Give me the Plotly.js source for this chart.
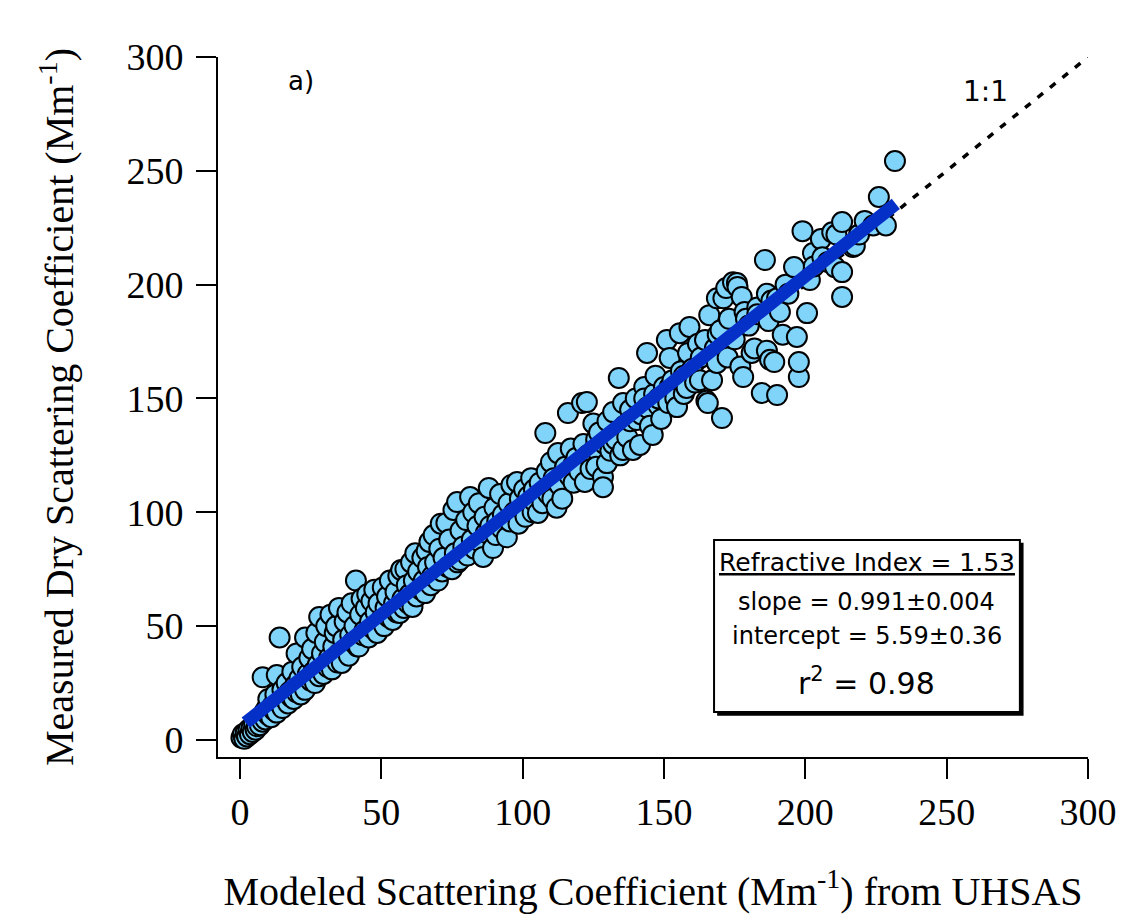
<!DOCTYPE html>
<html>
<head>
<meta charset="utf-8">
<script src="https://cdn.plot.ly/plotly-3.0.1.min.js"></script>
<style>html,body{margin:0;padding:0;background:#fff;}#chart{width:1127px;height:914px;}</style>
</head>
<body>
<div id="chart"></div>
<script>
// Modeled scattering coefficient (x, Mm^-1) from UHSAS
const modeledX = [
0.5,1,1.5,2,2.5,3,3.5,4,4.5,5,5.5,6,6.5,7,7.5,8,8,8.5,9,9.5,10,10,11,11.5,12,12.5,13,13,14,14,
15,15,16,16.5,17,17.5,18,18.5,19,19.5,20,20,21,21.5,22,22.5,23,23,24,24.5,25,25.5,26,26.5,27,27.5,28,28,29,29.5,
30,30.5,31,31.5,32,32.5,33,33.5,34,34.5,35,35,36,36.5,37,37.5,38,38.5,39,39.5,40,40.5,41,41.5,42,42.5,43,43.5,44,44.5,
45,45.5,46,46.5,47,47.5,48,48.5,49,50,50.5,51,51.5,52,52.5,53,54,54.5,55,55.5,56,56.5,57,57.5,58,58.5,59,59.5,60,60.5,
61,61.5,62,62.5,63,64,64.5,65,65.5,66,66.5,67,67.5,68,68.5,69,70,70.5,71,71.5,72,73,73.5,74,75,75.5,76,76.8,77,77.8,
78,79,80,80.5,81.4,82,82.5,83,84,84.5,85,86,86.5,87,88,88.5,89.5,90,90.5,91,92,92.5,93,94.4,95,95.5,96,97,98,98.5,
99,100,100.5,101,102,103,103.5,104,104,105.4,106,107,108,108.5,109,110,110.5,111,112,112.5,113,114,115,116,116.5,117,118,118,119,120,
121,121.5,122,122.7,123,124,125,125.5,126,126,127,128.4,128.4,129,129.8,130,131,132,132,133,134,134.5,135.5,135.5,136,137,138,138,139,140,
140.4,141.5,142,143,143,144,144,145,146,146.5,147,148,148,149,150,151,151.5,152,152,153,154,154.6,155.6,156,157,157,158,158.5,159,160,
161,162,162.7,163,164.5,165,165.5,166,167,168,168.7,168.7,169,170,170.5,171,172,172.5,173,174.4,175,175.8,176,177,177.5,178,178.5,179,180,181,
182,183,183,184.6,185.7,186.4,186.4,187,187.5,188,189,190,190,191,192,193,194,196,197,197.7,197.7,199,200.6,201.6,202.7,203,205.5,206,208,209.5,
210.5,211,213,213,213,216.8,217.5,219,221,224,226,228.5,231.7
];
// Measured dry scattering coefficient (y, Mm^-1)
const measuredY = [
1,2.5,0.5,3,1.5,4.5,2.5,5,3.5,7,4.5,6,9,6.5,10,8,27.5,12,9,14,11,18,10,15,13,20,28.5,12,45,16,
22,14,18,25,16,21,19,30,18,24,38,21,27,20,32,24,45,22,29,36,26,40,30,25,47,33,54,28,38,29,
43,50,32,36,55,31,41,47,50,34,58,38,33.8,44,52,40,56,37,46,60,43,50,70,41,41,55,62,46,48,58,
64,45,52,61,49,66,56,47,60,53,67,50,58,63,54,70,52.7,60,65,56,72,55.8,74.7,62,58,75,68,60,64,78,
58.4,70,82,63,74,66,80,70,64.5,83,76,87,68,72,90,78,70,84,95,74,80,95.3,76,88,75,101,82,104.5,78,79,
92,85,96.6,81,106.7,88,100,84,94,104,87,80.4,98,91,110.7,94,84.3,102,90,96,108,93,99,89,104,96,112,100,113.3,95,
106,101,110,98,107,115,100,110,105,99.7,113,104,134.8,118,108,122,106,115,102,126,112,106,120,143.6,116,128,113,121,124,118,
148,130,113.3,148.4,125,119,139,128,120,132,135,115.5,111,130,121.6,140,127,144,130,132,159,125,148,127.4,138,133,145,140,127.4,150,
140.5,129.6,143,155,150,170,146,138,134,152,160,147,150,141,155,175.7,148,167.8,155,158,150,146.2,178.7,162,152,160,154.6,170,181.4,163,
157,174,158,168,175.7,149,148,186.6,158,172,165.6,194,178,180,141.4,194,198.5,168,185,201,176,200.7,199,164,194.6,159.4,188,185,182,170,
172,190,187,152.4,210.8,196,171,184,167,193,166,151.5,194,188,178,200,196,207.7,177,159.4,166,223.5,187.5,202,213.9,208,220,212,210,223,
207.7,222,227.5,205.5,194.6,216.5,217,222,228,226,238.5,226,254.3
];
// Linear fit parameters (from the figure's inset)
const fitSlope = 0.991;
const fitIntercept = 5.59;
const fitRange = [2, 232];
const oneToOne = [0, 300];
const xTicks = [0, 50, 100, 150, 200, 250, 300];
const yTicks = [0, 50, 100, 150, 200, 250, 300];

const serif = '"Liberation Serif", "Times New Roman", serif';
const sans = '"DejaVu Sans", Arial, sans-serif';

const traces = [
  {x: oneToOne, y: oneToOne, mode: 'lines', line: {color: '#000', width: 3.5, dash: '7px,9px'}, hoverinfo: 'skip', showlegend: false},
  {x: modeledX, y: measuredY, mode: 'markers', type: 'scatter',
   marker: {size: 20, color: '#80d4f9', line: {color: '#000', width: 2}}, showlegend: false},
  {x: fitRange, y: fitRange.map(v => fitSlope * v + fitIntercept), mode: 'lines',
   line: {color: '#0530c8', width: 13}, showlegend: false}
];

const layout = {
  width: 1127, height: 914,
  margin: {l: 218, r: 39, t: 57, b: 157},
  paper_bgcolor: '#fff', plot_bgcolor: '#fff',
  showlegend: false,
  xaxis: {
    range: [-7.8, 300], tickvals: xTicks, ticktext: xTicks.map(String),
    showgrid: false, zeroline: false, showline: true, linecolor: '#000', linewidth: 2,
    ticks: 'outside', ticklen: 20, tickwidth: 2, tickcolor: '#000',
    tickfont: {family: serif, size: 38, color: '#000'},
    title: {text: 'Modeled Scattering Coefficient (Mm<sup>-1</sup>) from UHSAS', font: {family: serif, size: 40, color: '#000'}, standoff: 48}
  },
  yaxis: {
    range: [-7.5, 300], tickvals: yTicks, ticktext: yTicks.map(String),
    showgrid: false, zeroline: false, showline: true, linecolor: '#000', linewidth: 2,
    ticks: 'outside', ticklen: 20, tickwidth: 2, tickcolor: '#000',
    ticklabelstandoff: 5,
    tickfont: {family: serif, size: 38, color: '#000'},
    title: {text: 'Measured Dry Scattering Coefficient (Mm<sup>-1</sup>)', font: {family: serif, size: 40, color: '#000'}, standoff: 40}
  },
  shapes: [
    {type: 'rect', xref: 'x', yref: 'y', x0: 168.8, x1: 277.2, y0: 10.6, y1: 86.6, fillcolor: '#000', line: {width: 0}},
    {type: 'rect', xref: 'x', yref: 'y', x0: 167.7, x1: 275.9, y0: 12.3, y1: 87.8, fillcolor: '#fff', line: {color: '#000', width: 2}}
  ],
  annotations: [
    {x: 21.5, y: 289.5, xref: 'x', yref: 'y', text: 'a)', showarrow: false, font: {family: sans, size: 26, color: '#000'}},
    {x: 263.7, y: 285, xref: 'x', yref: 'y', text: '1:1', showarrow: false, font: {family: sans, size: 28, color: '#000'}},
    {x: 221.8, y: 78, xref: 'x', yref: 'y', text: '<u>Refractive Index = 1.53</u>', showarrow: false, font: {family: sans, size: 25, color: '#000'}},
    {x: 221.8, y: 60.8, xref: 'x', yref: 'y', text: 'slope = 0.991±0.004', showarrow: false, font: {family: sans, size: 24, color: '#000'}},
    {x: 221.8, y: 45.8, xref: 'x', yref: 'y', text: 'intercept = 5.59±0.36', showarrow: false, font: {family: sans, size: 24, color: '#000'}},
    {x: 221.8, y: 25.5, xref: 'x', yref: 'y', text: 'r<sup>2</sup> = 0.98', showarrow: false, font: {family: sans, size: 30, color: '#000'}}
  ]
};

Plotly.newPlot('chart', traces, layout, {displayModeBar: false, staticPlot: true});
</script>
</body>
</html>
